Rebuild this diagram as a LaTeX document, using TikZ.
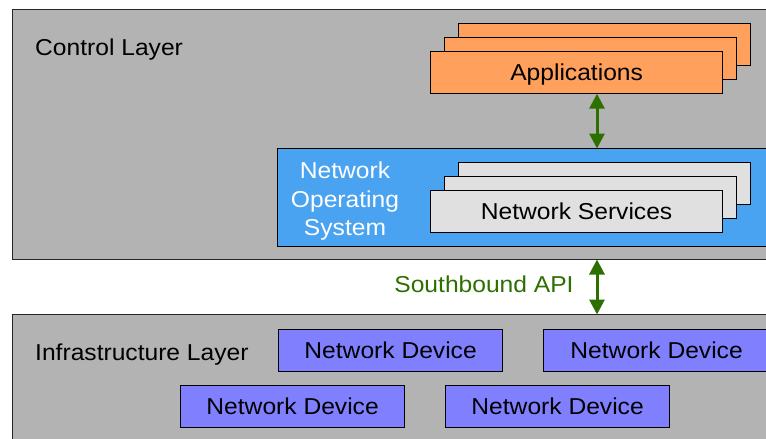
\documentclass[tikz,border=0pt]{standalone}
\usepackage{fontspec}
\setmainfont{Liberation Sans}[FakeStretch=1.07]
\usetikzlibrary{arrows.meta}
\definecolor{layergray}{RGB}{179,179,179}
\definecolor{apporange}{RGB}{255,160,92}
\definecolor{nosblue}{RGB}{74,163,240}
\definecolor{svcgray}{RGB}{224,224,224}
\definecolor{devblue}{RGB}{128,128,255}
\definecolor{apigreen}{RGB}{45,112,0}
\tikzset{
  x=1pt, y=-1pt,
  every node/.style={font=\fontsize{23}{28.5}\selectfont, inner sep=0pt, text depth=0pt},
  layerbox/.style={draw=black!85, line width=1pt, fill=layergray, anchor=north west},
  plainbox/.style={draw=black, line width=1.2pt, anchor=north west},
  appbox/.style={plainbox, fill=apporange, minimum width=292pt, minimum height=42pt},
  svcbox/.style={plainbox, fill=svcgray, minimum width=292pt, minimum height=42pt},
  devbox/.style={plainbox, fill=devblue, minimum width=224pt, minimum height=42pt},
  biarrow/.style={apigreen, line width=3pt, {Triangle[width=15pt,length=15pt]}-{Triangle[width=15pt,length=15pt]}, shorten <=-0.5pt, shorten >=-0.5pt},
  label/.style={anchor=west}
}
\begin{document}
\begin{tikzpicture}
\useasboundingbox (0,0) rectangle (766,439);
\clip (0,0) rectangle (766,439);
\fill[white] (0,0) rectangle (766,439);

% control layer
\node[layerbox, minimum width=770pt, minimum height=250pt] (ctrl) at (12,9) {};
\node[label] (ctrltxt) at (35,47) {Control Layer};

% stacked applications
\node[appbox] (app3) at (458,23) {};
\node[appbox] (app2) at (444,37) {};
\node[appbox] (app1) at (430,51) {};
\node (apptxt) at (app1.center) {Applications};

% network operating system
\node[plainbox, fill=nosblue, minimum width=500pt, minimum height=98pt] (nos) at (277,148) {};
\node[text=white, align=center] (nostxt) at (345,199) {Network\\Operating\\System};

% stacked network services
\node[svcbox] (svc3) at (458,162) {};
\node[svcbox] (svc2) at (444,176) {};
\node[svcbox] (svc1) at (430,190) {};
\node (svctxt) at (svc1.center) {Network Services};

% infrastructure layer
\node[layerbox, minimum width=770pt, minimum height=140pt] (infra) at (12,314) {};
\node[label] (infratxt) at (35,352) {Infrastructure Layer};

% network devices
\node[devbox] (dev1) at (278,329) {Network Device};
\node[devbox, minimum width=226pt] (dev2) at (543,329) {Network Device};
\node[devbox] (dev3) at (180,385) {Network Device};
\node[devbox] (dev4) at (445,385) {Network Device};

% connectors
\coordinate (ax) at (597,0);
\draw[biarrow] (ax |- app1.south) -- (ax |- nos.north);
\draw[biarrow] (ax |- ctrl.south) -- (ax |- infra.north);
\node[text=apigreen] (api) at (484,284) {Southbound API};
\end{tikzpicture}
\end{document}
